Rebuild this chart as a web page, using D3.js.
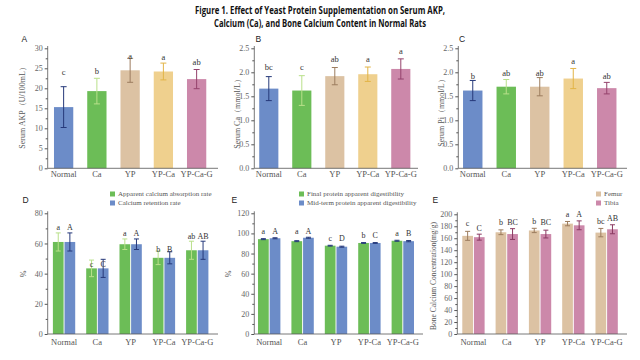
<!DOCTYPE html>
<html><head><meta charset="utf-8">
<script src="https://cdn.jsdelivr.net/npm/d3@7/dist/d3.min.js"></script>
<style>body{margin:0;background:#fff}svg{display:block}</style>
</head><body>
<svg id="c" width="640" height="360"></svg>
<script>
// ---------- DATA ----------
const categories = ["Normal","Ca","YP","YP-Ca","YP-Ca-G"];

const akpMean = [15.3,19.3,24.5,24.2,22.3];
const akpErr  = [5.1,3.2,3.0,2.1,2.4];
const akpLetters = ["c","b","a","a","ab"];
const akpLetterAt = [24,24.3,28,27.7,26.5];
const akpTicks = [0,5,10,15,20,25,30];

const caMean = [1.66,1.62,1.92,1.96,2.07];
const caErr  = [0.25,0.31,0.18,0.15,0.21];
const caLetters = ["bc","c","ab","a","a"];
const caLetterAt = [2.10,2.10,2.28,2.28,2.45];

const piMean = [1.62,1.70,1.70,1.87,1.67];
const piErr  = [0.21,0.15,0.19,0.21,0.12];
const piLetters = ["b","ab","ab","a","ab"];
const piLetterAt = [1.92,1.99,1.99,2.24,1.92];
const mmolTicks = [0,0.5,1.0,1.5,2.0,2.5];

const absorption = [61,43.5,59.5,50.5,55.5];
const absorptionErr = [6,5.5,3.5,4.5,6];
const retention = [61,43.5,59.5,50.5,55.5];
const retentionErr = [6,6,3.5,4,6];
const absLetters = ["a","c","a","b","ab"];
const retLetters = ["A","C","A","B","AB"];
const absLetterAt = [70.5,46.5,67,56,64.5];
const retLetterAt = [70.5,46.5,67,56,64.5];
const pctTicksD = [0,20,40,60,80];

const finalDig = [94.3,92.3,87.8,90.5,92.7];
const finalErr = [0.5,0.5,0.4,0.4,0.5];
const midDig = [95.2,95.7,86.8,90.5,92.3];
const midErr = [0.5,0.5,0.5,0.4,0.6];
const finalLetters = ["a","a","c","b","a"];
const midLetters = ["A","A","D","C","B"];
const finalLetterAt = [101.8,101.8,95.2,98.4,100.7];
const midLetterAt = [101.8,101.8,95.2,98.4,100.7];
const pctTicksE = [0,20,40,60,80,100,120];

const femur = [164,170,173,184.4,169.4];
const femurErr = [7.5,4,3.6,3.6,7];
const tibia = [161.8,167,167,181.6,175];
const tibiaErr = [5,9,6.5,7.4,7.5];
const femurLetters = ["c","b","b","a","bc"];
const tibiaLetters = ["C","BC","BC","A","AB"];
const femurLetterAt = [185,186,187.7,200,189];
const tibiaLetterAt = [176.6,186,186,200,193.5];
const boneTicks = [0,20,40,60,80,100,120,140,160,180,200];

// ---------- STYLE ----------
const SERIF = "'Liberation Serif','Times New Roman',serif";
const SANS = "'Liberation Sans',Arial,sans-serif";
const singleColors = ["#6c8cc8","#6cbd57","#dcc2a3","#efd08e","#cc88aa"];
const singleErrColors = ["#26397a","#b9e08a","#9c7c5e","#e2b447","#94426c"];
const svg = d3.select("#c");

// Title
const title = svg.append("g").attr("font-family","'Open Sans','Noto Sans',sans-serif").attr("font-weight","bold").attr("fill","#111").attr("text-anchor","middle");
title.append("text").attr("x",320).attr("y",14).attr("font-size",10.5).attr("textLength",250).attr("lengthAdjust","spacingAndGlyphs").text("Figure 1. Effect of Yeast Protein Supplementation on Serum AKP,");
title.append("text").attr("x",320).attr("y",27).attr("font-size",10.5).attr("textLength",212).attr("lengthAdjust","spacingAndGlyphs").text("Calcium (Ca), and Bone Calcium Content in Normal Rats");

function drawAxes(g, x, y, ticks, fmt, axisX, x1, yZero, yTop, catDy) {
  const minor = [];
  for (let i = 0; i < ticks.length - 1; i++) minor.push((ticks[i] + ticks[i+1]) / 2);
  const ya = g.append("g").attr("transform",`translate(${axisX},0)`)
    .call(d3.axisLeft(y).tickValues(ticks).tickSize(3).tickPadding(2).tickFormat(fmt));
  ya.select(".domain").remove();
  ya.selectAll("line").attr("stroke","#555");
  ya.selectAll("text").attr("font-family",SERIF).attr("font-size",8).attr("fill","#666");
  const ym = g.append("g").attr("transform",`translate(${axisX},0)`)
    .call(d3.axisLeft(y).tickValues(minor).tickSize(2).tickFormat(""));
  ym.select(".domain").remove();
  ym.selectAll("line").attr("stroke","#555");
  g.append("line").attr("x1",axisX).attr("x2",axisX).attr("y1",yTop).attr("y2",yZero).attr("stroke","#555").attr("stroke-width",0.8);
  g.append("line").attr("x1",axisX).attr("x2",x1).attr("y1",yZero).attr("y2",yZero).attr("stroke","#555").attr("stroke-width",0.8);
  g.selectAll(".cat").data(categories).join("text")
    .attr("x",d => x(d) + x.bandwidth()/2).attr("y",yZero + catDy)
    .attr("text-anchor","middle").attr("font-family",SERIF).attr("font-size",8.5).attr("fill","#555").text(d => d);
}

function errBar(g, cx, yv, ylo, yhi, color, capW) {
  g.append("line").attr("x1",cx).attr("x2",cx).attr("y1",ylo).attr("y2",yhi).attr("stroke",color).attr("stroke-width",1);
  g.append("line").attr("x1",cx-capW).attr("x2",cx+capW).attr("y1",yhi).attr("y2",yhi).attr("stroke",color).attr("stroke-width",1);
  g.append("line").attr("x1",cx-capW).attr("x2",cx+capW).attr("y1",ylo).attr("y2",ylo).attr("stroke",color).attr("stroke-width",1);
}

function singlePanel(cfg) {
  const g = svg.append("g");
  const x = d3.scaleBand().domain(categories).range(cfg.xr).paddingInner(0.42).paddingOuter(0.21);
  const y = d3.scaleLinear().domain([0, cfg.max]).range([168.3, 48.3]);
  categories.forEach((c, i) => {
    const v = cfg.mean[i], e = cfg.err[i];
    g.append("rect").attr("x",x(c)).attr("width",x.bandwidth()).attr("y",y(v)).attr("height",y(0)-y(v)).attr("fill",singleColors[i]);
    errBar(g, x(c)+x.bandwidth()/2, y(v), y(v-e), y(v+e), singleErrColors[i], 3);
    g.append("text").attr("x",x(c)+x.bandwidth()/2).attr("y",y(cfg.letterAt[i])).attr("dy","0.35em")
      .attr("text-anchor","middle").attr("font-family",SERIF).attr("font-size",8.5).attr("fill","#333").text(cfg.letters[i]);
  });
  drawAxes(g, x, y, cfg.ticks, cfg.fmt, cfg.axisX, cfg.x1, 168.3, 46, 9);
  g.append("text").attr("transform",`translate(${cfg.labX},${cfg.labY}) rotate(-90)`).attr("text-anchor","middle")
    .attr("font-family",SERIF).attr("font-size",8).attr("fill","#555").text(cfg.label);
  g.append("text").attr("x",cfg.pX).attr("y",42).attr("font-family",SANS).attr("font-size",8.5).attr("fill","#222").text(cfg.panel);
}

singlePanel({mean:akpMean, err:akpErr, letters:akpLetters, letterAt:akpLetterAt, max:30, ticks:akpTicks, fmt:d3.format("d"),
  xr:[47,213.25], axisX:47.7, x1:218, label:"Serum AKP（U/100mL）", labX:25, labY:106, panel:"A", pX:21.5});
singlePanel({mean:caMean, err:caErr, letters:caLetters, letterAt:caLetterAt, max:2.5, ticks:mmolTicks, fmt:d3.format(".1f"),
  xr:[252.3,417.3], axisX:254.3, x1:418, label:"Serum Ca（mmol/L）", labX:240, labY:112, panel:"B", pX:255.5});
singlePanel({mean:piMean, err:piErr, letters:piLetters, letterAt:piLetterAt, max:2.5, ticks:mmolTicks, fmt:d3.format(".1f"),
  xr:[456,623.5], axisX:458.3, x1:627, label:"Serum Pi（mmol/L）", labX:444, labY:111, panel:"C", pX:459});

function groupedPanel(cfg) {
  const g = svg.append("g");
  const x = d3.scaleBand().domain(categories).range(cfg.xr).paddingInner(0.33).paddingOuter(0.165);
  const sub = d3.scaleBand().domain([0,1]).range([0, x.bandwidth()]).paddingInner(0.08);
  const y = d3.scaleLinear().domain([0, cfg.max]).range([334, cfg.yTop]);
  const series = [
    {v:cfg.s1, e:cfg.e1, l:cfg.l1, at:cfg.at1, col:cfg.c1, ec:cfg.ec1},
    {v:cfg.s2, e:cfg.e2, l:cfg.l2, at:cfg.at2, col:cfg.c2, ec:cfg.ec2}
  ];
  categories.forEach((c, i) => {
    series.forEach((s, k) => {
      const bx = x(c) + sub(k), bw = sub.bandwidth(), v = s.v[i], e = s.e[i];
      g.append("rect").attr("x",bx).attr("width",bw).attr("y",y(v)).attr("height",y(0)-y(v)).attr("fill",s.col);
      errBar(g, bx+bw/2, y(v), y(v-e), y(v+e), s.ec, 2.5);
      g.append("text").attr("x",bx+bw/2).attr("y",y(s.at[i])).attr("dy","0.35em").attr("text-anchor","middle")
        .attr("font-family",SERIF).attr("font-size",8).attr("fill","#333").text(s.l[i]);
    });
  });
  drawAxes(g, x, y, cfg.ticks, d3.format("d"), cfg.axisX, cfg.x1, 334, cfg.yTop - 2, 11);
  g.append("text").attr("transform",`translate(${cfg.labX},${cfg.labY}) rotate(-90)`).attr("text-anchor","middle")
    .attr("font-family",SERIF).attr("font-size",cfg.labSize).attr("fill","#555").text(cfg.label);
  g.append("text").attr("x",cfg.pX).attr("y",203).attr("font-family",SANS).attr("font-size",8.5).attr("fill","#222").text(cfg.panel);
  const lg = g.append("g").attr("font-family",SERIF).attr("font-size",7).attr("fill","#555");
  cfg.names.forEach((n, k) => {
    lg.append("rect").attr("x",cfg.legX).attr("y",191.5 + k*9).attr("width",5).attr("height",5).attr("fill",series[k].col);
    lg.append("text").attr("x",cfg.legX + 8).attr("y",196 + k*9).text(n);
  });
}

groupedPanel({s1:absorption, e1:absorptionErr, l1:absLetters, at1:absLetterAt, c1:"#6cbd57", ec1:"#b9e08a",
  s2:retention, e2:retentionErr, l2:retLetters, at2:retLetterAt, c2:"#6c8cc8", ec2:"#26397a",
  max:80, yTop:213.3, ticks:pctTicksD, xr:[47.4,213.9], axisX:47.7, x1:218,
  label:"%", labX:26, labY:274, labSize:8, panel:"D", pX:22.5, legX:110,
  names:["Apparent calcium absorption rate","Calcium retention rate"]});
groupedPanel({s1:finalDig, e1:finalErr, l1:finalLetters, at1:finalLetterAt, c1:"#6cbd57", ec1:"#26397a",
  s2:midDig, e2:midErr, l2:midLetters, at2:midLetterAt, c2:"#6c8cc8", ec2:"#26397a",
  max:120, yTop:213.3, ticks:pctTicksE, xr:[252.5,419.5], axisX:254.3, x1:423,
  label:"%", labX:231, labY:274, labSize:8, panel:"E", pX:231.5, legX:299,
  names:["Final protein apparent digestibility","Mid-term protein apparent digestibility"]});
groupedPanel({s1:femur, e1:femurErr, l1:femurLetters, at1:femurLetterAt, c1:"#dcc2a3", ec1:"#9c7c5e",
  s2:tibia, e2:tibiaErr, l2:tibiaLetters, at2:tibiaLetterAt, c2:"#cc88aa", ec2:"#8a3a62",
  max:200, yTop:214.3, ticks:boneTicks, xr:[456.8,623.3], axisX:457.3, x1:627,
  label:"Bone Calcium Concentration(mg/g)", labX:436, labY:276, labSize:7.5, panel:"E", pX:432.5, legX:596,
  names:["Femur","Tibia"]});
</script>
</body></html>
